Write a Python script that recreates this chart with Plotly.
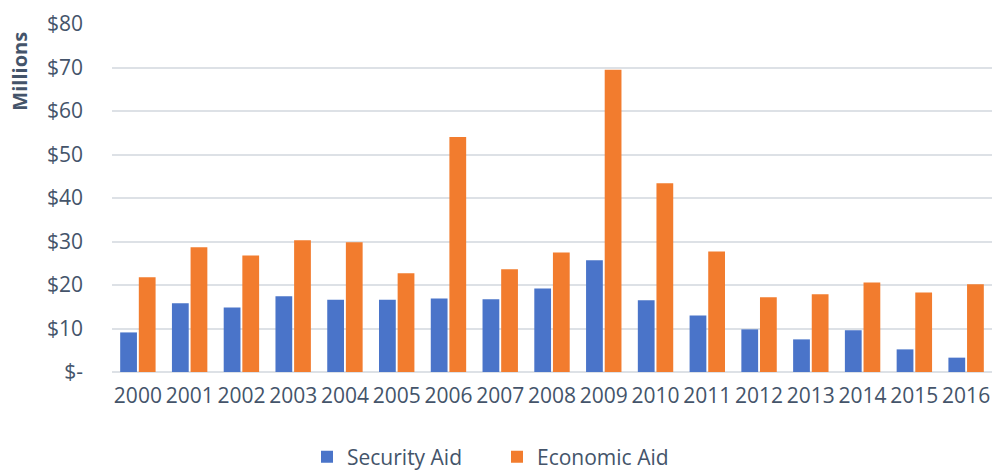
import plotly.graph_objects as go

years = [str(y) for y in range(2000, 2017)]
security_aid = [9.1, 15.8, 14.8, 17.4, 16.6, 16.6, 16.9, 16.7, 19.2, 25.7, 16.5, 13.0, 9.8, 7.5, 9.6, 5.2, 3.3]
economic_aid = [21.8, 28.7, 26.8, 30.3, 29.8, 22.7, 54.0, 23.6, 27.5, 69.5, 43.4, 27.7, 17.2, 17.9, 20.6, 18.3, 20.2]
tick_vals = [0, 10, 20, 30, 40, 50, 60, 70, 80]
tick_text = ["$-", "$10", "$20", "$30", "$40", "$50", "$60", "$70", "$80"]

text_color = "#44546A"
font_family = "Open Sans, Noto Sans, sans-serif"

fig = go.Figure()
fig.add_trace(go.Bar(x=years, y=security_aid, name="Security Aid",
                     marker=dict(color="#4A74C9", line=dict(width=0))))
fig.add_trace(go.Bar(x=years, y=economic_aid, name="Economic Aid",
                     marker=dict(color="#F27C2E", line=dict(width=0))))

fig.update_layout(
    width=994, height=471,
    margin=dict(l=112, r=2, t=24, b=99),
    paper_bgcolor="white", plot_bgcolor="white",
    barmode="group", bargap=0.28, bargroupgap=0.1,
    font=dict(family=font_family, color=text_color, size=21),
    showlegend=True,
    legend=dict(orientation="h", xref="container", yref="container",
                x=0.5, xanchor="center", y=1 - 457 / 471, yanchor="middle",
                font=dict(size=21, color=text_color), entrywidth=145,
                bgcolor="rgba(0,0,0,0)"),
    xaxis=dict(showgrid=False, showline=False, ticks="",
               tickfont=dict(size=21, color=text_color), ticklabelstandoff=9),
    yaxis=dict(range=[0, 80], tickvals=tick_vals, ticktext=tick_text,
               showgrid=True, gridcolor="#DDE1E6", gridwidth=1.5,
               zeroline=True, zerolinecolor="#DDE1E6", zerolinewidth=1.5,
               tickfont=dict(size=21, color=text_color), ticklabelstandoff=28,
               showline=False, ticks=""),
    annotations=[dict(text="<b>Millions</b>", textangle=-90, xref="paper", yref="paper",
                      x=0, xanchor="center", xshift=-92, y=1 - (72 - 24.5) / 347,
                      yanchor="middle", showarrow=False,
                      font=dict(size=20, color=text_color))],
)
fig.write_html("out.html")
